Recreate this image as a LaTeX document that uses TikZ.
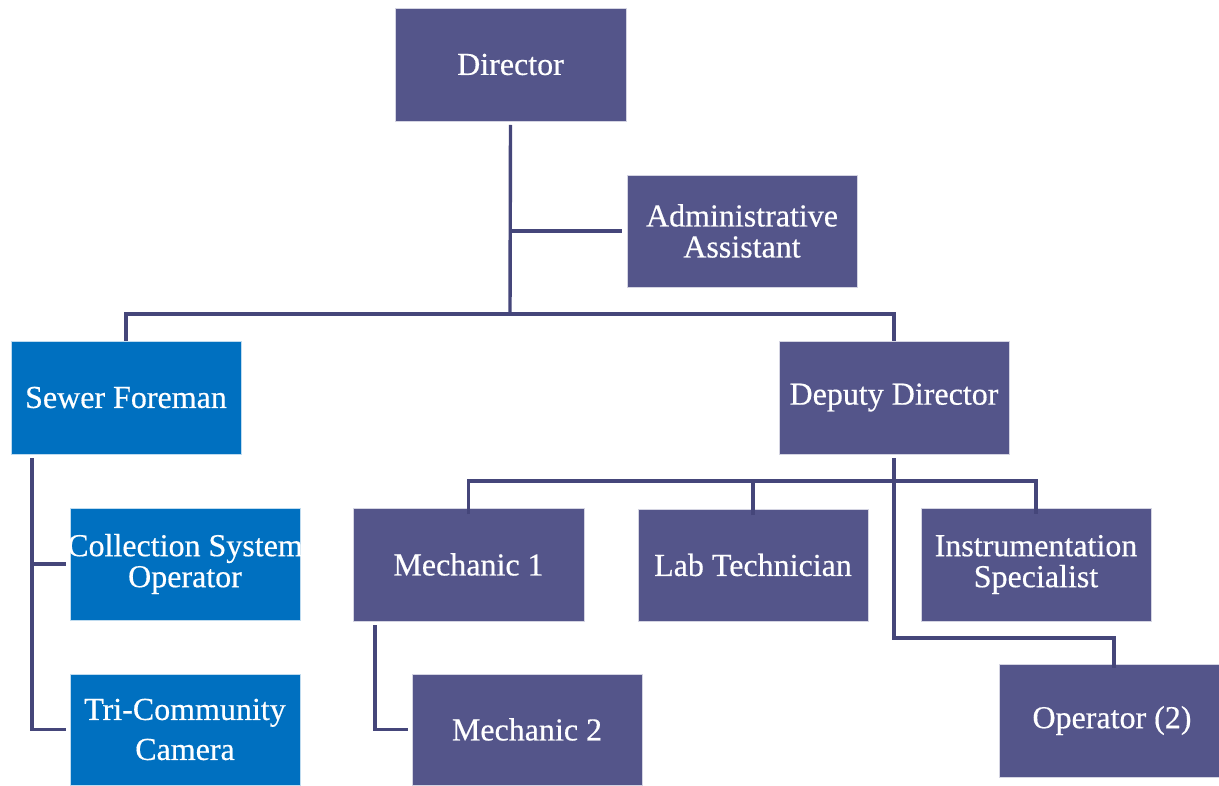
\documentclass[tikz,border=0pt]{standalone}
\usepackage{fontspec}
\setmainfont[FakeBold=0.4]{Liberation Serif}
\definecolor{boxpurple}{HTML}{54558A}
\definecolor{boxblue}{HTML}{0070C0}
\definecolor{linecol}{HTML}{45467A}
\tikzset{
  orgbox/.style={rectangle, fill=boxpurple, draw=white!75!boxpurple, line width=0.8pt,
    text=white, align=center, inner sep=0pt, outer sep=0pt,
    minimum width=230pt, minimum height=113pt,
    font=\fontsize{32}{31}\selectfont},
  bluebox/.style={orgbox, fill=boxblue, draw=white!75!boxblue},
  conn/.style={draw=linecol, line width=3.4pt, line join=miter, line cap=butt}
}
\begin{document}
\begin{tikzpicture}[x=1pt,y=-1pt]
\useasboundingbox (0,0) rectangle (1219,786);
\fill[white] (0,0) rectangle (1219,786);

\node[orgbox, minimum width=231pt] (dir) at (510.5,64.5) {Director};
\node[orgbox, minimum height=112pt] (adm) at (742,231) {Administrative\\Assistant};
\node[bluebox] (sew) at (126,397.5) {Sewer Foreman};
\node[orgbox] (dep) at (894,397.5) {\raisebox{-4pt}{Deputy Director}};
\node[bluebox, minimum height=112pt] (cso) at (185,564) {\makebox[0pt]{Collection System}\\Operator};
\node[bluebox, minimum height=111pt] (tri) at (185,729.5) {Tri-Community\\[9pt]Camera};
\node[orgbox, minimum width=231pt] (me1) at (468.5,564.5) {Mechanic 1};
\node[orgbox, minimum height=112pt] (lab) at (753,565) {Lab Technician};
\node[orgbox] (ins) at (1036,564.5) {Instrumentation\\Specialist};
\node[orgbox, minimum height=111pt] (me2) at (527,729.5) {Mechanic 2};
\node[orgbox, minimum width=220pt] (op) at (1109,720.5) {\hspace*{6pt}Operator (2)};

% Director tree
\coordinate (bus1) at (510,314);
\draw[conn] ([yshift=-4pt]dir.south) -- (bus1);
\draw[conn] (dir.south |- adm.west) -- ([xshift=-5pt]adm.west);
\draw[conn] (sew.north) -- (sew.north |- bus1) -- (dep.north |- bus1) -- (dep.north);

% Sewer foreman tree
\coordinate (sv) at ([xshift=21pt,yshift=-4pt]sew.south west);
\draw[conn] (sv) -- (sv |- tri.west) -- ([xshift=-4pt]tri.west);
\draw[conn] (sv |- cso.west) -- ([xshift=-4pt]cso.west);

% Deputy tree
\coordinate (bus2) at (894,481);
\coordinate (bus3) at (894,638);
\coordinate (opc) at ([xshift=5pt]op.north);
\draw[conn] ([yshift=-6pt]me1.north) -- (me1.north |- bus2) -- (ins.north |- bus2) -- ([yshift=-6pt]ins.north);
\draw[conn] ([yshift=-6pt]lab.north) -- (lab.north |- bus2);
\draw[conn] ([yshift=-4pt]dep.south) -- (bus3) -- (opc |- bus3) -- ([yshift=-4pt]opc);

% Mechanic tree
\coordinate (mv) at ([xshift=22pt,yshift=-4pt]me1.south west);
\draw[conn] (mv) -- (mv |- me2.west) -- ([xshift=-4pt]me2.west);
\end{tikzpicture}
\end{document}
